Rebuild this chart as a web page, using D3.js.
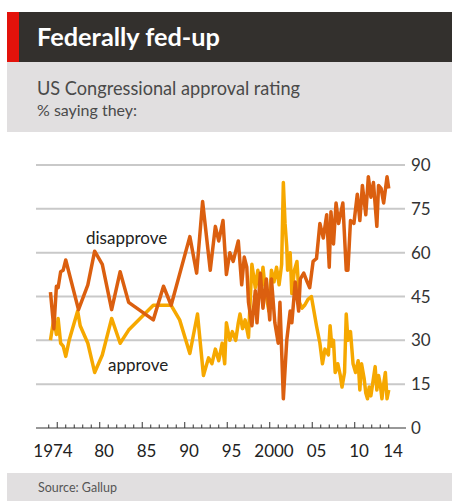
<!DOCTYPE html>
<html><head><meta charset="utf-8">
<script src="https://cdn.jsdelivr.net/npm/d3@7"></script>
<style>
html,body{margin:0;padding:0;background:#fff;}
svg{display:block;font-family:Lato,"Open Sans",sans-serif;}
</style></head>
<body><svg id="c" width="452" height="501"></svg>
<script>
const title = "Federally fed-up";
const subtitle = "US Congressional approval rating";
const subtitle2 = "% saying they:";
const source = "Source: Gallup";
const yTicks = [0, 15, 30, 45, 60, 75, 90];
const xTickLabels = ["1974", "80", "85", "90", "95", "2000", "05", "10", "14"];
const xTickYears = [1974, 1980, 1985, 1990, 1995, 2000, 2005, 2010, 2014];

const approveYears = [1974.2,1974.6,1974.9,1975.1,1975.4,1975.7,1976.0,1976.4,1977.4,1977.7,1978.6,1979.4,1980.3,1981.4,1982.4,1983.4,1986.3,1988.4,1989.4,1990.6,1991.5,1992.2,1992.8,1993.2,1993.6,1994.0,1994.4,1994.7,1994.9,1995.3,1995.6,1996.0,1996.3,1996.5,1996.8,1997.1,1997.5,1997.9,1998.3,1998.6,1998.9,1999.2,1999.5,1999.9,2000.2,2000.5,2000.8,2001.1,2001.4,2001.6,2001.8,2002.0,2002.1,2002.4,2002.6,2002.9,2003.2,2003.5,2003.8,2004.1,2004.5,2004.9,2005.2,2005.5,2005.9,2006.2,2006.5,2006.9,2007.1,2007.3,2007.5,2007.7,2008.0,2008.3,2008.5,2008.8,2009.0,2009.2,2009.5,2009.8,2010.1,2010.4,2010.6,2010.8,2011.1,2011.3,2011.5,2011.7,2011.9,2012.2,2012.4,2012.6,2012.8,2013.0,2013.2,2013.4,2013.6,2013.8,2014.0];
const approveValues = [30,37.5,32,37.5,29,28,24.5,30,40,35,29,19,25,37.5,29,33.5,42,42,37,25.5,39,18,24,22,27,23,29,22,36,30,33,30,36,39,34,37,31,56,48,54,45,55,47,40,54,50,55,49,56,84,70,62,54,60,46,54,57,43,41,42,44,45,40,35,29,22,27,25,35,28,30,19,22,18,14,19,39,30,33,22,19,23,13,22,17,12,10,14,11,17,21,13,18,15,10,15,19,10,13];

const disapproveYears = [1974.2,1974.6,1974.9,1975.1,1975.4,1975.7,1976.0,1977.5,1978.6,1979.4,1980.3,1981.4,1982.4,1983.4,1986.3,1987.5,1988.4,1990.6,1991.4,1992.1,1993.0,1993.6,1994.0,1994.5,1994.9,1995.3,1995.7,1996.3,1996.7,1997.0,1997.3,1997.5,1997.9,1998.3,1998.5,1998.9,1999.2,1999.6,2000.0,2000.2,2000.6,2001.0,2001.2,2001.6,2002.0,2002.4,2002.6,2003.0,2003.4,2003.6,2004.0,2004.4,2004.7,2005.1,2005.5,2005.9,2006.3,2006.7,2007.0,2007.2,2007.5,2007.8,2008.1,2008.6,2009.0,2009.2,2009.5,2009.9,2010.3,2010.6,2010.9,2011.3,2011.6,2011.9,2012.2,2012.6,2012.8,2013.1,2013.4,2013.8,2014.0];
const disapproveValues = [46.5,34,48.5,48,53.5,54,57.5,40.5,49,60.5,56,40.5,53.5,43,37,48.5,42,65.5,53,77.5,54,69,64,71,52.5,60,57,64,49,58.5,55,43,35,47,36,53,41,51,37,51,36,29,43,10,30,40,36,50,40,51,53,50,48,57,58,70,65,73,55,74,63,77,70,77,54,54,71,70,80,71,83,73,86,79,84,69,83,82,77,86,82];

const W = 452, H = 501;
const svg = d3.select("#c");

// header
svg.append("rect").attr("x",7).attr("y",12).attr("width",W-7).attr("height",50).attr("fill","#33302d");
svg.append("rect").attr("x",7).attr("y",12).attr("width",12).attr("height",50).attr("fill","#e3120b");
svg.append("text").attr("x",37).attr("y",46).attr("fill","#fff").attr("font-size",25).attr("font-weight",700)
  .attr("textLength",183).attr("lengthAdjust","spacingAndGlyphs").text(title);
svg.append("rect").attr("x",7).attr("y",62).attr("width",W-7).attr("height",70).attr("fill","#e1dfe0");
svg.append("text").attr("x",37).attr("y",95).attr("fill","#4a4a4a").attr("font-size",19)
  .attr("textLength",263).attr("lengthAdjust","spacingAndGlyphs").text(subtitle);
svg.append("text").attr("x",37).attr("y",116).attr("fill","#4a4a4a").attr("font-size",15)
  .attr("textLength",100).attr("lengthAdjust","spacingAndGlyphs").text(subtitle2);

// footer
svg.append("rect").attr("x",7).attr("y",473).attr("width",W-7).attr("height",H-473).attr("fill","#e1dfe0");
svg.append("text").attr("x",38).attr("y",492).attr("fill","#555").attr("font-size",13)
  .attr("textLength",79).attr("lengthAdjust","spacingAndGlyphs").text(source);

const x = d3.scaleLinear().domain([1972.5, 2016.03]).range([36, 406]);
const y = d3.scaleLinear().domain([0, 90]).range([428, 165]);

// gridlines
svg.append("g").selectAll("line").data(yTicks.filter(v=>v>0)).join("line")
  .attr("x1",36).attr("x2",405).attr("y1",d=>y(d)).attr("y2",d=>y(d))
  .attr("stroke","#c9c9c9").attr("stroke-width",2);

// right labels
svg.append("g").selectAll("text").data(yTicks).join("text")
  .attr("x",411).attr("y",d=>y(d)+6).attr("font-size",17).attr("fill","#333").text(d=>d);

// baseline + ticks
svg.append("line").attr("x1",36).attr("x2",406).attr("y1",y(0)).attr("y2",y(0)).attr("stroke","#333").attr("stroke-width",1.2);
const yearTicks = d3.range(1974, 2015);
svg.append("g").selectAll("line").data(yearTicks).join("line")
  .attr("x1",d=>x(d)).attr("x2",d=>x(d)).attr("y1",y(0)).attr("y2",d=>y(0)-(d%5===0?6:3.5))
  .attr("stroke","#333").attr("stroke-width",1);

svg.append("g").selectAll("text").data(xTickYears).join("text")
  .attr("x",(d)=>x(d+0.5)).attr("y",457).attr("text-anchor","middle").attr("font-size",17).attr("fill","#222")
  .text((d,i)=>xTickLabels[i]);

const line = d3.line().x(d=>x(d[0])).y(d=>y(d[1])).curve(d3.curveLinear);
const approve = approveYears.map((t,i)=>[t, approveValues[i]]);
const disapprove = disapproveYears.map((t,i)=>[t, disapproveValues[i]]);

svg.append("path").datum(approve).attr("d",line).attr("fill","none").attr("stroke","#f6a800").attr("stroke-width",3.5).attr("stroke-linejoin","round");
svg.append("path").datum(disapprove).attr("d",line).attr("fill","none").attr("stroke","#db5f0f").attr("stroke-width",3.5).attr("stroke-linejoin","round");

svg.append("text").attr("x",86).attr("y",244).attr("font-size",17).attr("fill","#222").text("disapprove");
svg.append("text").attr("x",108).attr("y",371).attr("font-size",17).attr("fill","#222").text("approve");
</script>
</body></html>
